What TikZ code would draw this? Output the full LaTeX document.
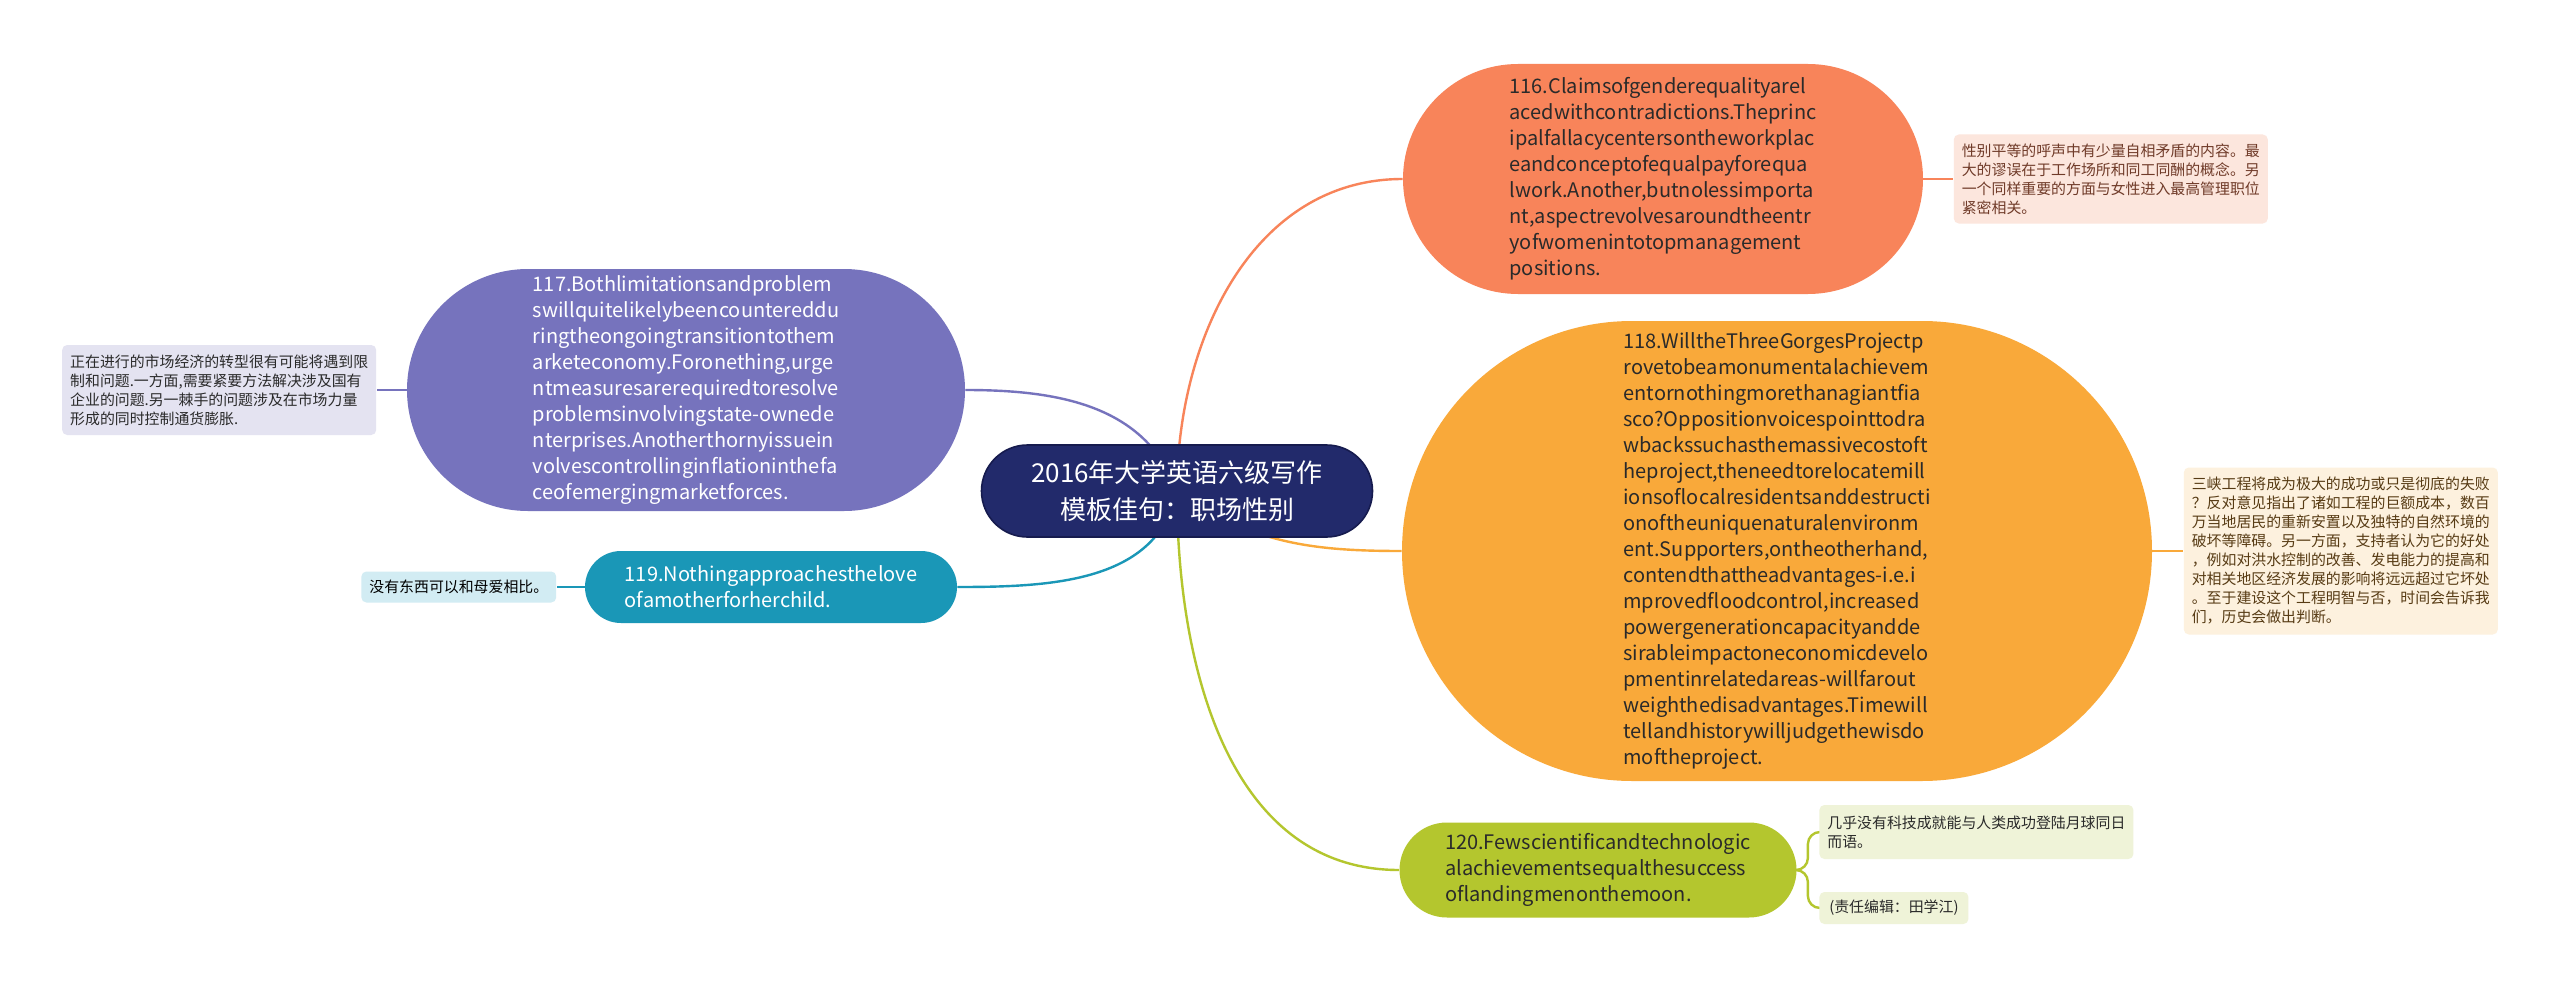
\documentclass[tikz,border=0pt]{standalone}
\usepackage{fontspec}
\setmainfont{Noto Sans CJK SC}
\usetikzlibrary{positioning,backgrounds}

\definecolor{rootfill}{HTML}{222A6B}
\definecolor{rootedge}{HTML}{161B4E}
\definecolor{c116}{HTML}{F8845A}
\definecolor{c117}{HTML}{7673BD}
\definecolor{c118}{HTML}{F9A93A}
\definecolor{c119}{HTML}{1A97B7}
\definecolor{c120}{HTML}{B4C62E}
\definecolor{n116}{HTML}{FCE6DD}
\definecolor{n117}{HTML}{E4E3F1}
\definecolor{n118}{HTML}{FDF1DE}
\definecolor{n119}{HTML}{D2ECF3}
\definecolor{n120}{HTML}{EFF3D8}
\definecolor{txtdark}{HTML}{2A2A2A}

\begin{document}
\begin{tikzpicture}[
        x=0.5pt, y=-0.5pt,
        topic/.style={
            rectangle,
            inner sep=0pt,
            align=left,
            font=\fontsize{10}{13}\selectfont
        },
        note/.style={
            rectangle,
            rounded corners=2.5pt,
            inner xsep=4pt,
            inner ysep=2pt,
            align=left,
            font=\fontsize{7.45}{9.5}\selectfont
        },
        conn/.style={draw=#1, line width=1.2pt}
    ]
        \useasboundingbox (0,0) rectangle (2560,990);
        \begin{scope}[on background layer]
            \fill [white] (0,0) rectangle (2560,990);
        \end{scope}

        % -- Nodes --

        % centre
        \node [topic, fill=rootfill, draw=rootedge, line width=0.8pt, text=white, align=center,
               minimum width=195.5pt, minimum height=46pt, rounded corners=23pt,
               font=\fontsize{13}{18.5}\selectfont] (root) at (1177,491)
              {2016年大学英语六级写作\\模板佳句：职场性别};

        % right side
        \node [topic, fill=c116, text=txtdark, minimum width=260pt, minimum height=115pt,
               rounded corners=57.5pt] (q116) at (1663,179)
              {116.Claimsofgenderequalityarel\\acedwithcontradictions.Theprinc\\
               ipalfallacycentersontheworkplac\\eandconceptofequalpayforequa\\
               lwork.Another,butnolessimporta\\nt,aspectrevolvesaroundtheentr\\
               yofwomenintotopmanagement\\positions.};
        \node [topic, fill=c118, text=txtdark, minimum width=375pt, minimum height=230pt,
               rounded corners=115pt] (q118) at (1777,551)
              {118.WilltheThreeGorgesProjectp\\rovetobeamonumentalachievem\\
               entornothingmorethanagiantfia\\sco?Oppositionvoicespointtodra\\
               wbackssuchasthemassivecostoft\\heproject,theneedtorelocatemill\\
               ionsoflocalresidentsanddestructi\\onoftheuniquenaturalenvironm\\
               ent.Supporters,ontheotherhand,\\contendthattheadvantages-i.e.i\\
               mprovedfloodcontrol,increased\\powergenerationcapacityandde\\
               sirableimpactoneconomicdevelo\\pmentinrelatedareas-willfarout\\
               weighthedisadvantages.Timewill\\tellandhistorywilljudgethewisdo\\
               moftheproject.};
        \node [topic, fill=c120, text=txtdark, minimum width=198.5pt, minimum height=47.5pt,
               rounded corners=23.75pt] (q120) at (1598,870)
              {120.Fewscientificandtechnologic\\alachievementsequalthesuccess\\
               oflandingmenonthemoon.};

        % left side
        \node [topic, fill=c117, text=white, minimum width=279pt, minimum height=121pt,
               rounded corners=60.5pt] (q117) at (686,390)
              {117.Bothlimitationsandproblem\\swillquitelikelybeencountereddu\\
               ringtheongoingtransitiontothem\\arketeconomy.Foronething,urge\\
               ntmeasuresarerequiredtoresolve\\problemsinvolvingstate-ownede\\
               nterprises.Anotherthornyissuein\\volvescontrollinginflationinthefa\\
               ceofemergingmarketforces.};
        \node [topic, fill=c119, text=white, minimum width=186pt, minimum height=36pt,
               rounded corners=18pt] (q119) at (771,587)
              {119.Nothingapproachesthelove\\ofamotherforherchild.};

        % notes
        \node [note, fill=n116, text=c116!45!black, minimum height=44.5pt, right=15pt of q116] (t116)
              {性别平等的呼声中有少量自相矛盾的内容。最\\大的谬误在于工作场所和同工同酬的概念。另\\
               一个同样重要的方面与女性进入最高管理职位\\紧密相关。};
        \node [note, fill=n117, text=txtdark, minimum height=45pt, left=15pt of q117] (t117)
              {正在进行的市场经济的转型很有可能将遇到限\\制和问题.一方面,需要紧要方法解决涉及国有\\
               企业的问题.另一棘手的问题涉及在市场力量\\形成的同时控制通货膨胀.};
        \node [note, fill=n118, text=c118!35!black, minimum height=83.5pt, right=15.5pt of q118] (t118)
              {三峡工程将成为极大的成功或只是彻底的失败\\？反对意见指出了诸如工程的巨额成本，数百\\
               万当地居民的重新安置以及独特的自然环境的\\破坏等障碍。另一方面，支持者认为它的好处\\
               ，例如对洪水控制的改善、发电能力的提高和\\对相关地区经济发展的影响将远远超过它坏处\\
               。至于建设这个工程明智与否，时间会告诉我\\们，历史会做出判断。};
        \node [note, fill=n119, text=black, minimum height=15.5pt, left=14pt of q119] (t119)
              {没有东西可以和母爱相比。};
        \node [note, fill=n120, text=txtdark, minimum height=27pt, anchor=west] (t120a) at (1819,832)
              {几乎没有科技成就能与人类成功登陆月球同日\\而语。};
        \node [note, fill=n120, text=txtdark, minimum height=16pt, minimum width=74.5pt, anchor=west] (t120b) at (1819,908)
              {(责任编辑：田学江)};

        % -- Paths --
        \begin{scope}[on background layer]
            % from the centre
            \path [conn=c116] (root.center) to[out=90,in=180] (q116.west);
            \path [conn=c117] (root.center) to[out=110,in=0] (q117.east);
            \path [conn=c118] (root.center) to[out=-35,in=180] (q118.west);
            \path [conn=c119] (root.center) to[out=258,in=0] (q119.east);
            \path [conn=c120] (root.center) to[out=270,in=180] (q120.west);

            % to the notes
            \path [conn=c116] (q116.east) -- (t116.west);
            \path [conn=c117] (q117.west) -- (t117.east);
            \path [conn=c118] (q118.east) -- (t118.west);
            \path [conn=c119] (q119.west) -- (t119.east);
            \path [conn=c120, rounded corners=6pt] (q120.east) -- ++(11,0) |- (t120a.west);
            \path [conn=c120, rounded corners=6pt] (q120.east) -- ++(11,0) |- (t120b.west);
        \end{scope}

    \end{tikzpicture}
\end{document}
